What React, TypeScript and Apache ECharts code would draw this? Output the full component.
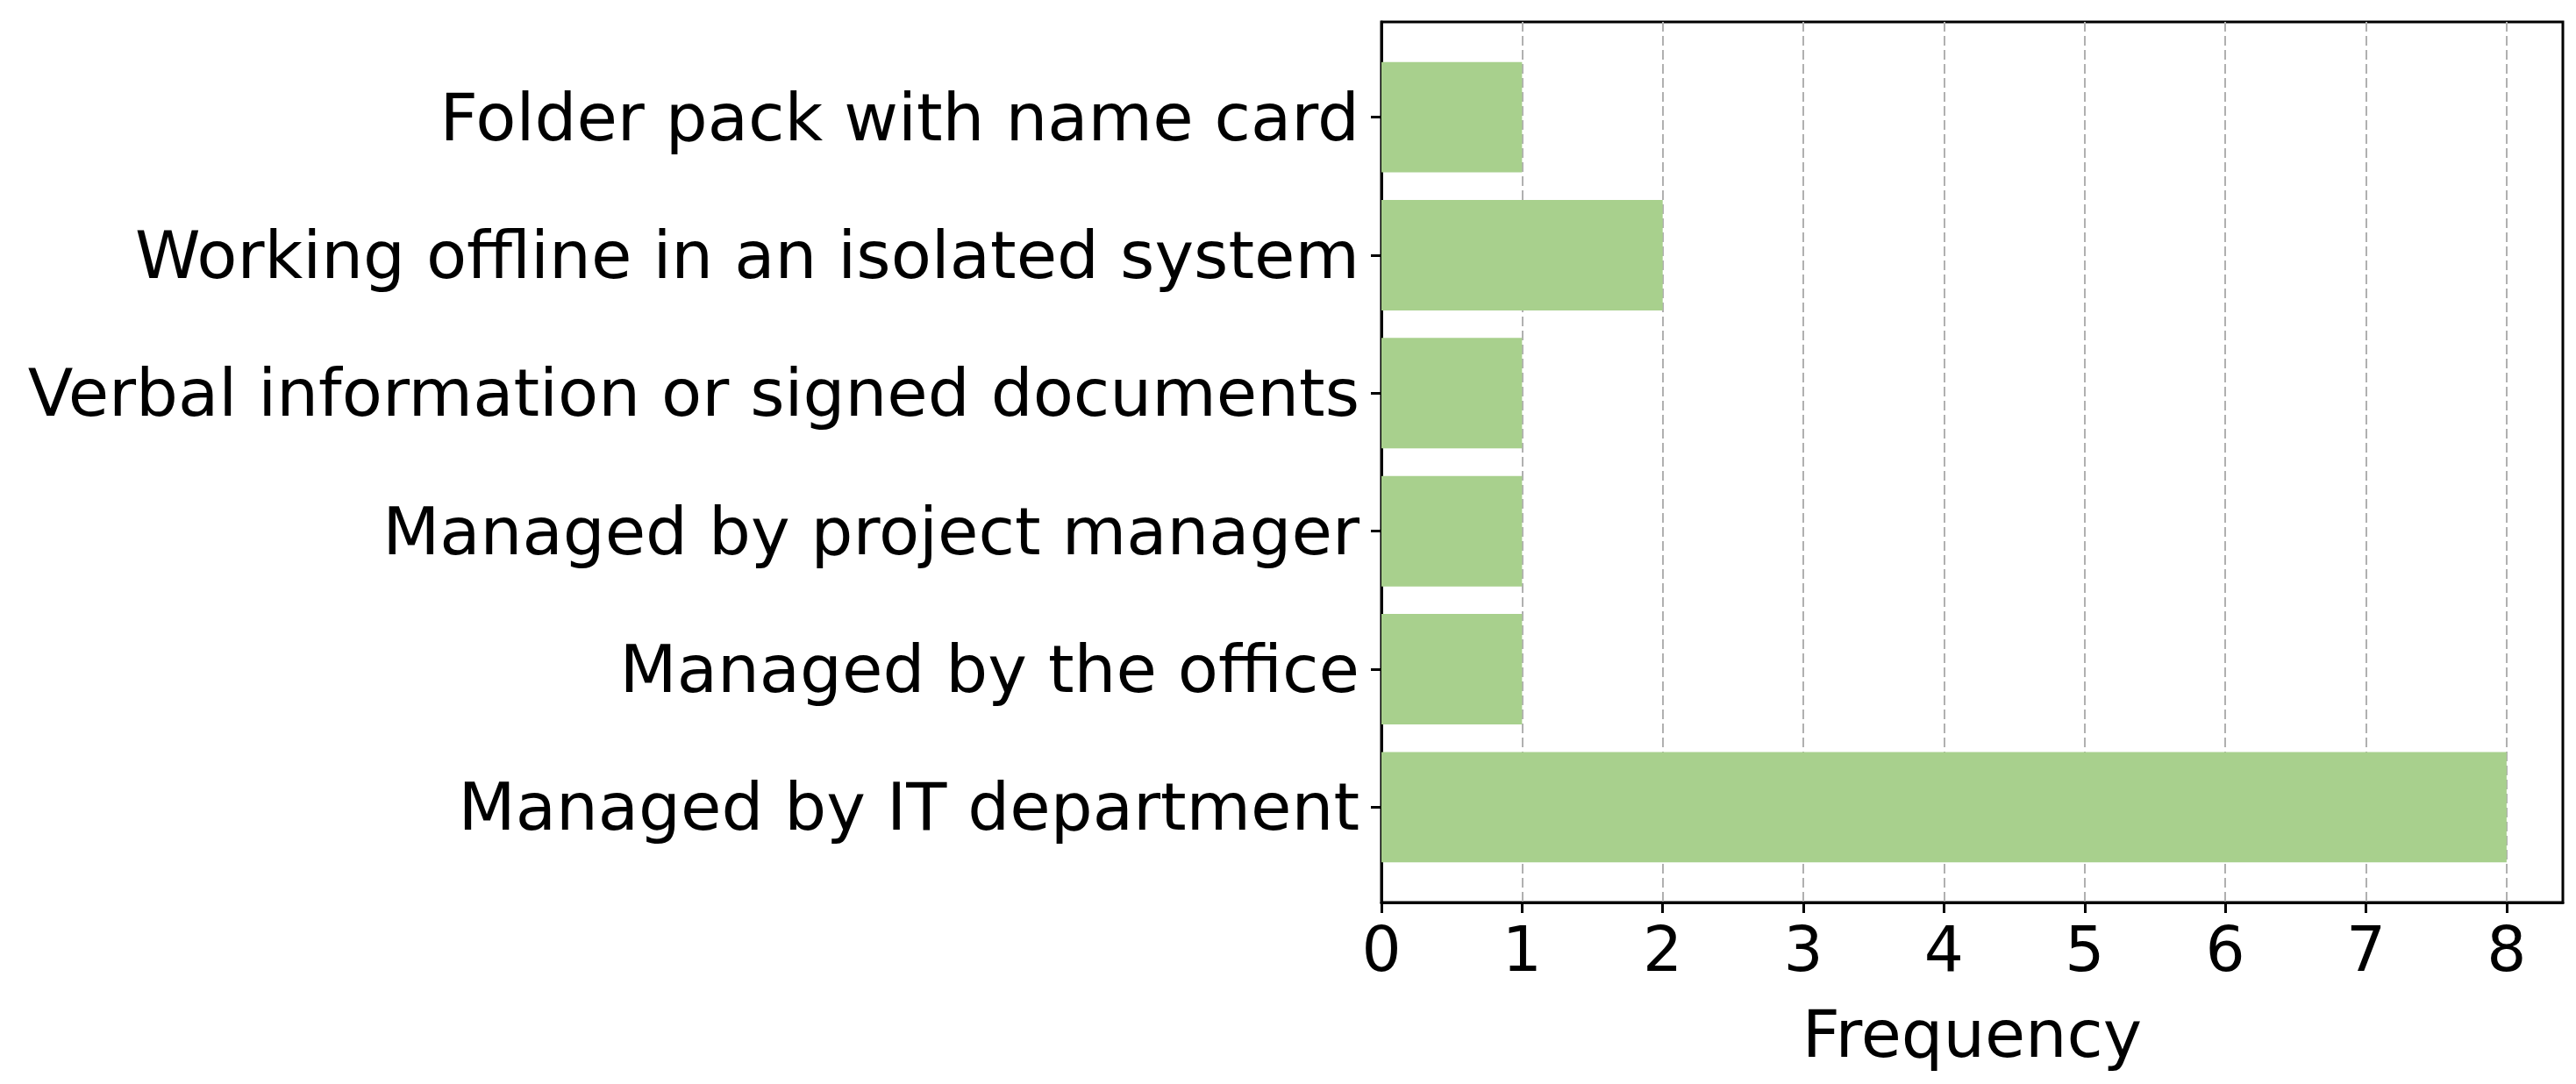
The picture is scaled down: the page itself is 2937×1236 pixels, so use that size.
import React, { useEffect, useRef } from "react";
import * as echarts from "echarts";

const categories = [
  "Managed by IT department",
  "Managed by the office",
  "Managed by project manager",
  "Verbal information or signed documents",
  "Working offline in an isolated system",
  "Folder pack with name card",
];
const frequencies = [8, 1, 1, 1, 2, 1];
const xTicks = [0, 1, 2, 3, 4, 5, 6, 7, 8];
const yTicks = [0, 1, 2, 3, 4, 5];
const xAxisName = "Frequency";

export default function App() {
  const ref = useRef<HTMLDivElement>(null);
  useEffect(() => {
    if (!ref.current) return;
    const chart = echarts.init(ref.current, null, { renderer: "svg" });
    const font = "DejaVu Sans";
    const L = 1575, T = 25, W = 1347, H = 1004;
    const barHeight = 0.8;
    chart.setOption({
      animation: false,
      backgroundColor: "#ffffff",
      grid: { left: L, top: T, width: W, height: H, show: true, borderColor: "#000", borderWidth: 3, backgroundColor: "transparent" },
      xAxis: {
        type: "value", min: 0, max: 8.4, interval: 1,
        axisLine: { show: true, onZero: false, lineStyle: { color: "#000", width: 3 } },
        axisTick: { show: true, length: 12, lineStyle: { color: "#000", width: 3 }, customValues: xTicks },
        axisLabel: { show: true, customValues: xTicks, fontFamily: font, fontSize: 71, color: "#000", margin: 18 },
        splitLine: { show: true, lineStyle: { color: "#b0b0b0", width: 2, type: [11, 5] } },
        name: xAxisName, nameLocation: "middle", nameGap: 112,
        nameTextStyle: { fontFamily: font, fontSize: 75, color: "#000" },
      },
      yAxis: {
        type: "value", min: -0.69, max: 5.69,
        axisLine: { show: true, onZero: false, lineStyle: { color: "#000", width: 3 } },
        axisTick: { show: true, length: 12, lineStyle: { color: "#000", width: 3 }, customValues: yTicks },
        axisLabel: {
          show: true, customValues: yTicks, fontFamily: font, fontSize: 75.5, color: "#000", margin: 25,
          formatter: (v: number) => categories[Math.round(v)] ?? "",
        },
        splitLine: { show: false },
      },
      series: [
        {
          type: "custom",
          data: frequencies.map((v, i) => [v, i]),
          encode: { x: 0, y: 1 },
          renderItem: (params: any, api: any) => {
            const val = api.value(0);
            const idx = api.value(1);
            const p0 = api.coord([0, idx]);
            const p1 = api.coord([val, idx]);
            const h = api.size([0, barHeight])[1];
            return {
              type: "rect",
              shape: { x: p0[0], y: p0[1] - h / 2, width: p1[0] - p0[0], height: h },
              style: { fill: "#a8d08d" },
            };
          },
          z: 1,
        },
      ],
    });
    return () => chart.dispose();
  }, []);
  return <div ref={ref} style={{ position: "fixed", left: 0, top: 0, width: 2937, height: 1236 }} />;
}
